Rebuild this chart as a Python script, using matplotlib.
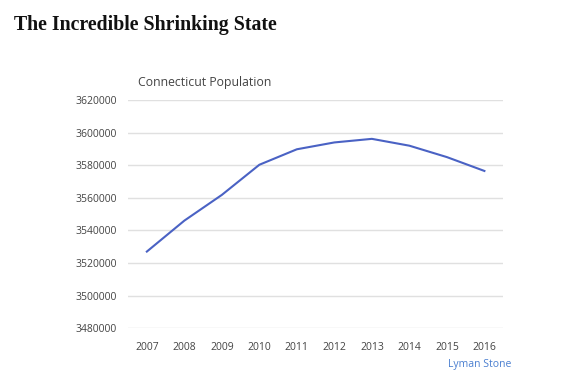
import matplotlib.pyplot as plt

# Connecticut population by year
years = ['2007', '2008', '2009', '2010', '2011', '2012', '2013', '2014', '2015', '2016']
population = [3527000, 3546000, 3561800, 3580300, 3589800, 3594000, 3596200, 3592000, 3585000, 3576500]
y_ticks = [3480000, 3500000, 3520000, 3540000, 3560000, 3580000, 3600000, 3620000]

fig = plt.figure(figsize=(5.77, 3.82), dpi=100)
ax = fig.add_axes([0.222, 0.141, 0.65, 0.597])

x = list(range(len(years)))
ax.plot(x, population, color='#4a62c4', linewidth=1.5)

ax.set_xlim(-0.5, len(years) - 0.5)
ax.set_ylim(y_ticks[0], y_ticks[-1])
ax.set_xticks(x)
ax.set_xticklabels(years)
ax.set_yticks(y_ticks)
ax.set_yticklabels([str(v) for v in y_ticks])
ax.tick_params(length=0, labelsize=7.5, labelcolor='#444444')
ax.tick_params(axis='x', pad=10)
ax.tick_params(axis='y', pad=8)
ax.grid(axis='y', color='#e0e0e0', linewidth=1)
ax.set_axisbelow(True)
for s in ax.spines.values():
    s.set_visible(False)

for lbl in ax.get_xticklabels() + ax.get_yticklabels():
    lbl.set_family('Open Sans')

# headline and chart title
fig.text(0.024, 0.935, 'The Incredible Shrinking State', family='Liberation Serif',
         fontweight='bold', fontsize=14.3, color='#111111', va='center')
fig.text(0.239, 0.785, 'Connecticut Population', family='Open Sans',
         fontsize=8.8, color='#444444', va='center')

# credit
fig.text(0.887, 0.045, 'Lyman Stone', family='Open Sans', fontsize=7.5,
         color='#4a7fd0', ha='right', va='center')

fig.savefig('out.png', dpi=100)
